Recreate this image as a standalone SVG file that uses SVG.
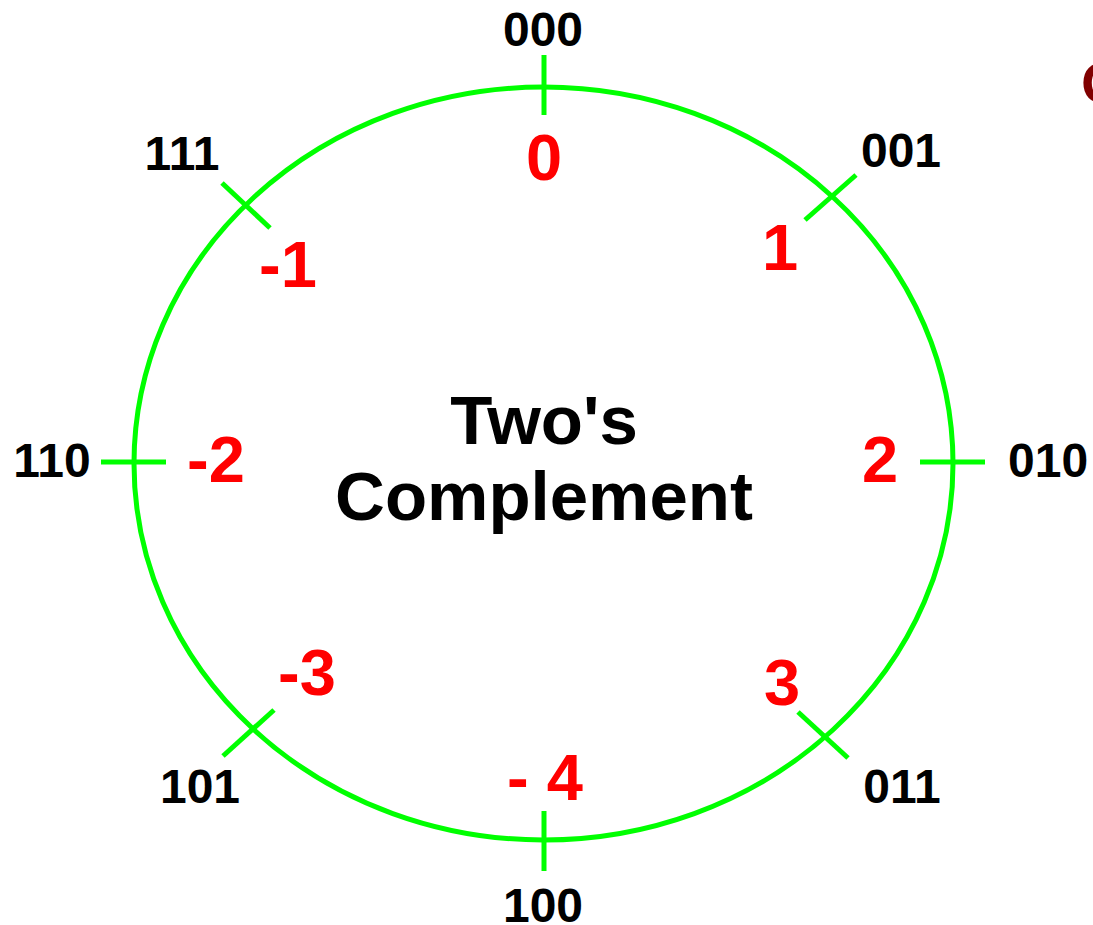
<svg xmlns="http://www.w3.org/2000/svg" width="1093" height="925" viewBox="0 0 1093 925">
<style>
.bin{font-family:"Liberation Sans",Arial,sans-serif;font-weight:bold;font-size:48px;fill:#000;text-anchor:middle}
.val{font-family:"Liberation Sans",Arial,sans-serif;font-weight:bold;font-size:65px;fill:#ff0000;text-anchor:middle}
.title{font-family:"Liberation Sans",Arial,sans-serif;font-weight:bold;font-size:69px;fill:#000;text-anchor:middle}
.g{stroke:#00ff00;stroke-width:5;fill:none}
</style>
<rect width="1093" height="925" fill="#fff"/>
<g id="wheel">
<ellipse class="g" cx="543.5" cy="463.5" rx="409.5" ry="376.5"/>
</g>
<g id="connectors">
<line class="g" x1="544" y1="55" x2="544" y2="115"/>
<line class="g" x1="544" y1="811" x2="544" y2="871"/>
<line class="g" x1="101" y1="462" x2="166" y2="462"/>
<line class="g" x1="920" y1="462" x2="985" y2="462"/>
<line class="g" x1="805" y1="220" x2="856" y2="175"/>
<line class="g" x1="222" y1="183" x2="270" y2="228"/>
<line class="g" x1="223" y1="756" x2="274" y2="710"/>
<line class="g" x1="798" y1="712" x2="848" y2="758"/>
</g>
<g id="n000"><text class="bin" x="543" y="46">000</text><text class="val" x="544" y="180">0</text></g>
<g id="n001"><text class="bin" x="901" y="167">001</text><text class="val" x="780" y="270">1</text></g>
<g id="n010"><text class="bin" x="1008" y="477" style="text-anchor:start">010</text><text class="val" x="880" y="482">2</text></g>
<g id="n011"><text class="bin" x="902" y="803">011</text><text class="val" x="782" y="705">3</text></g>
<g id="n100"><text class="bin" x="543" y="922">100</text><text class="val" x="545" y="800">- 4</text></g>
<g id="n101"><text class="bin" x="200" y="803">101</text><text class="val" x="307" y="695">-3</text></g>
<g id="n110"><text class="bin" x="52" y="477">110</text><text class="val" x="216" y="482">-2</text></g>
<g id="n111"><text class="bin" x="182" y="170">111</text><text class="val" x="288" y="287">-1</text></g>
<g id="title"><text class="title" x="544" y="444">Two's</text><text class="title" x="544" y="520">Complement</text></g>
<g id="edge"><text x="1081" y="103" style="font-family:'Liberation Sans',Arial,sans-serif;font-weight:bold;font-size:58px;fill:#800000">O</text></g>
</svg>
